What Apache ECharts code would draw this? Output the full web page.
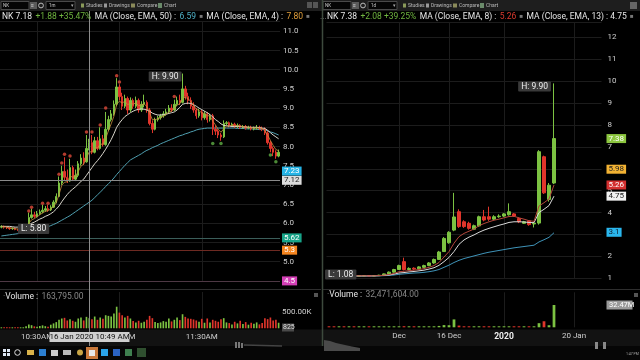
<!DOCTYPE html>
<html><head><meta charset="utf-8">
<script src="https://cdn.jsdelivr.net/npm/echarts@6/dist/echarts.min.js"></script>
<style>html,body{margin:0;padding:0;background:#000;overflow:hidden}#chart{width:640px;height:360px}</style>
</head><body><div id="chart"></div>
<script>
// ================= LEFT PANEL: NK 1-minute bars, 16 Jan 2020 =================
const leftStartHour = 10, leftStartMinute = 17, leftBarCount = 102;
const leftTimeTickLabels = {'10:30':'10:30AM','11:00':'11:00AM','11:30':'11:30AM'};
const leftOpen = [5.90,5.92,5.90,5.88,5.86,5.87,5.84,5.82,5.85,5.88, 5.95,6.15,6.22,6.18,6.25,6.30,6.34,6.38,6.35,6.42, 6.55,6.70,7.05,7.35,7.20,7.10,7.45,7.15,7.25,7.55, 7.70,7.60,7.95,8.10,7.85,8.15,7.95,8.20,8.05,8.45, 8.70,8.85,9.10,9.55,9.30,9.05,9.25,8.95,9.20,9.05, 9.20,8.95,9.10,9.15,8.95,8.60,8.45,8.70,8.75,8.80, 8.85,8.90,9.00,8.95,9.10,9.20,9.15,9.50,9.30,9.20, 9.05,8.95,8.80,8.90,8.75,8.85,8.70,8.80,8.45,8.40, 8.30,8.25,8.60,8.62,8.55,8.58,8.52,8.55,8.50,8.52, 8.48,8.50,8.46,8.48,8.50,8.47,8.45,8.35,8.10,7.95, 7.85,7.75];
const leftClose = [5.92,5.90,5.88,5.86,5.87,5.84,5.82,5.85,5.88,5.95, 6.15,6.22,6.18,6.25,6.30,6.34,6.38,6.35,6.42,6.55, 6.70,7.05,7.35,7.20,7.10,7.45,7.15,7.25,7.55,7.70, 7.60,7.95,8.10,7.85,8.15,7.95,8.20,8.05,8.45,8.70, 8.85,9.10,9.55,9.30,9.05,9.25,8.95,9.20,9.05,9.20, 8.95,9.10,9.15,8.95,8.60,8.45,8.70,8.75,8.80,8.85, 8.90,9.00,8.95,9.10,9.20,9.15,9.50,9.30,9.20,9.05, 8.95,8.80,8.90,8.75,8.85,8.70,8.80,8.45,8.40,8.30, 8.25,8.60,8.62,8.55,8.58,8.52,8.55,8.50,8.52,8.48, 8.50,8.46,8.48,8.50,8.47,8.45,8.35,8.10,7.95,7.85, 7.75,7.85];
const leftLow = [5.87,5.86,5.85,5.83,5.83,5.82,5.80,5.81,5.83,5.86, 5.93,6.12,6.14,6.15,6.22,6.26,6.30,6.30,6.32,6.40, 6.52,6.68,7.00,7.12,7.05,7.08,7.10,7.10,7.20,7.50, 7.52,7.58,7.90,7.80,7.82,7.90,7.92,8.00,8.02,8.40, 8.65,8.80,9.05,9.20,8.95,9.00,8.85,8.90,8.98,9.00, 8.88,8.90,9.02,8.88,8.55,8.35,8.42,8.65,8.70,8.75, 8.80,8.85,8.90,8.92,9.05,9.08,9.12,9.22,9.10,8.98, 8.88,8.72,8.75,8.68,8.70,8.62,8.65,8.30,8.30,8.22, 8.15,8.22,8.55,8.50,8.52,8.48,8.48,8.46,8.46,8.44, 8.45,8.42,8.42,8.44,8.43,8.40,8.30,8.05,7.85,7.75, 7.68,7.72];
const leftHigh = [5.95,5.94,5.92,5.90,5.89,5.89,5.86,5.87,5.90,5.98, 6.28,6.38,6.30,6.32,6.36,6.48,6.45,6.48,6.47,6.60, 6.78,7.22,7.50,7.72,7.40,7.68,7.50,7.40,7.62,7.80, 7.85,8.30,8.20,8.30,8.25,8.25,8.50,8.30,8.90,8.80, 8.95,9.20,9.78,9.62,9.40,9.35,9.30,9.28,9.25,9.30, 9.25,9.18,9.35,9.20,9.00,8.68,8.75,8.80,8.85,8.92, 8.98,9.08,9.10,9.22,9.30,9.35,9.90,9.58,9.40,9.28, 9.15,9.00,8.98,8.95,8.92,8.90,8.85,8.85,8.55,8.45, 8.35,8.68,8.66,8.65,8.62,8.62,8.60,8.58,8.56,8.56, 8.54,8.54,8.52,8.56,8.54,8.52,8.50,8.40,8.15,8.00, 7.90,7.92];
const leftVolumeK = [18,12,15,10,14,12,20,16,22,60, 120,95,60,45,70,90,65,50,110,150, 190,260,300,320,240,280,230,200,300,330, 240,350,310,280,360,260,330,290,400,380, 360,450,660,480,400,330,380,300,220,180, 230,170,200,260,380,310,190,160,180,220, 200,300,210,260,330,250,430,350,300,290, 270,240,200,290,170,300,180,260,230,200, 280,310,180,160,120,200,150,230,130,190, 110,170,140,180,120,160,310,280,330,240, 260,170];
const leftEma4 = [5.92,5.91,5.90,5.88,5.88,5.86,5.85,5.85,5.86,5.90, 6.00,6.09,6.12,6.17,6.22,6.27,6.31,6.33,6.37,6.44, 6.54,6.75,6.99,7.07,7.08,7.23,7.20,7.22,7.35,7.49, 7.54,7.70,7.86,7.86,7.97,7.96,8.06,8.06,8.21,8.41, 8.59,8.79,9.10,9.18,9.13,9.18,9.09,9.13,9.10,9.14, 9.06,9.08,9.11,9.04,8.87,8.70,8.70,8.72,8.75,8.79, 8.84,8.90,8.92,8.99,9.08,9.11,9.26,9.28,9.25,9.17, 9.08,8.97,8.94,8.87,8.86,8.80,8.80,8.66,8.56,8.45, 8.37,8.46,8.53,8.54,8.55,8.54,8.54,8.53,8.52,8.51, 8.50,8.49,8.48,8.49,8.48,8.47,8.42,8.29,8.16,8.03, 7.92,7.89];
const leftEmaMid = [5.92,5.92,5.92,5.92,5.91,5.90,5.90,5.89,5.89,5.90, 5.95,6.00,6.03,6.07,6.11,6.14,6.18,6.21,6.25,6.30, 6.37,6.45,6.56,6.66,6.75,6.83,6.89,6.95,7.02,7.09, 7.15,7.25,7.35,7.45,7.55,7.63,7.72,7.82,7.93,8.05, 8.18,8.33,8.50,8.61,8.70,8.78,8.83,8.88,8.92,8.95, 8.97,8.98,8.97,8.95,8.92,8.87,8.84,8.82,8.82,8.83, 8.84,8.86,8.88,8.90,8.95,9.02,9.10,9.12,9.13,9.12, 9.09,9.05,9.00,8.96,8.92,8.88,8.83,8.77,8.70,8.65, 8.59,8.55,8.54,8.53,8.52,8.52,8.52,8.52,8.51,8.51, 8.50,8.50,8.50,8.50,8.49,8.48,8.47,8.42,8.36,8.30, 8.25,8.20];
const leftEma50 = [5.67,5.68,5.69,5.70,5.71,5.72,5.73,5.74,5.75,5.76, 5.77,5.79,5.81,5.83,5.85,5.86,5.88,5.91,5.94,5.97, 6.00,6.04,6.08,6.12,6.16,6.20,6.25,6.30,6.35,6.40, 6.45,6.50,6.55,6.60,6.67,6.74,6.81,6.88,6.96,7.03, 7.10,7.18,7.27,7.35,7.43,7.51,7.58,7.65,7.69,7.73, 7.77,7.81,7.86,7.90,7.93,7.97,8.00,8.03,8.07,8.10, 8.13,8.16,8.19,8.22,8.25,8.28,8.30,8.33,8.35,8.38, 8.40,8.43,8.45,8.46,8.47,8.48,8.48,8.48,8.48,8.48, 8.48,8.48,8.48,8.48,8.48,8.48,8.47,8.47,8.47,8.46, 8.46,8.46,8.45,8.45,8.44,8.44,8.43,8.41,8.38,8.36, 8.33,8.30];
const leftSignalsAbove = [[10,6.32],[11,6.42],[15,6.52],[17,6.52],[21,7.28],[22,7.57],[23,7.80],[25,7.75],[31,8.38],[33,8.38],[36,8.56],[38,9.0],[42,9.84],[43,9.68],[63,9.30]];
const leftSignalsBelow = [[77,8.08],[80,8.08],[98,7.78],[100,7.60]];
const leftHigh_ = {index:66, value:9.90}, leftLow_ = {index:6, value:5.80};
const leftLevels = [5.62, 5.3, 4.5];
const crosshairTime = '10:49', crosshairPrice = 7.12, crosshairText = '16 Jan 2020 10:49 AM';
const leftCyanTag = 7.23;

// ================= RIGHT PANEL: NK daily bars =================
const rightDates = ['2019-11-11','2019-11-12','2019-11-13','2019-11-14','2019-11-15','2019-11-18','2019-11-19','2019-11-20','2019-11-21','2019-11-22','2019-11-25','2019-11-26','2019-11-27','2019-11-29','2019-12-02','2019-12-03','2019-12-04','2019-12-05','2019-12-06','2019-12-09','2019-12-10','2019-12-11','2019-12-12','2019-12-13','2019-12-16','2019-12-17','2019-12-18','2019-12-19','2019-12-20','2019-12-23','2019-12-24','2019-12-26','2019-12-27','2019-12-30','2019-12-31','2020-01-02','2020-01-03','2020-01-06','2020-01-07','2020-01-08','2020-01-09','2020-01-10','2020-01-13','2020-01-14','2020-01-15','2020-01-16','2020-01-17','2020-01-18','2020-01-19','2020-01-20','2020-01-21','2020-01-22','2020-01-23','2020-01-24','2020-01-25'];
const rightDateTickLabels = {'2019-12-02':'Dec','2019-12-16':'16 Dec','2020-01-02':'{b|2020}','2020-01-20':'20 Jan'};
const rightOpen = [1.12,1.11,1.10,1.11,1.10,1.11,1.10,1.11,1.12,1.11, 1.12,1.14,1.20,1.28,1.40,1.76,1.40,1.46,1.43,1.50, 1.58,1.70,1.86,2.22,2.62,3.20,4.04,3.58,3.51,3.24, 3.39,3.81,3.81,3.70,3.81,3.84,3.90,3.94,3.73,3.51, 3.62,3.48,3.52,6.55,4.60,5.35];
const rightClose = [1.11,1.10,1.11,1.10,1.11,1.10,1.11,1.12,1.11,1.12, 1.14,1.20,1.28,1.40,1.58,1.40,1.45,1.42,1.52,1.58, 1.70,1.86,2.20,2.82,3.10,3.80,3.36,3.36,3.28,3.40, 3.81,3.66,3.70,3.81,3.84,3.94,4.04,3.84,3.58,3.58, 3.45,3.52,6.78,4.90,5.25,7.38];
const rightLow = [1.08,1.08,1.08,1.09,1.09,1.08,1.09,1.10,1.10,1.10, 1.11,1.13,1.18,1.26,1.38,1.36,1.36,1.38,1.40,1.46, 1.55,1.66,1.84,2.20,2.58,3.15,3.30,3.30,3.22,3.20, 3.35,3.60,3.62,3.66,3.76,3.80,3.86,3.80,3.52,3.48, 3.40,3.32,3.45,4.85,4.50,5.30];
const rightHigh = [1.14,1.13,1.13,1.13,1.12,1.12,1.13,1.14,1.14,1.14, 1.16,1.22,1.31,1.43,1.62,1.94,1.50,1.50,1.55,1.62, 1.74,1.90,2.25,2.88,3.15,4.90,4.15,3.65,3.58,3.45, 3.86,4.12,4.27,3.88,3.92,3.98,4.42,3.98,3.78,3.62, 3.66,3.58,6.85,6.60,5.35,9.90];
const rightVolumeM = [0.4,0.3,0.5,0.3,0.4,0.3,0.4,0.5,0.3,0.4, 0.5,0.8,0.9,1.0,1.4,1.6,0.7,0.6,0.8,0.7, 0.9,1.2,2.0,3.2,3.0,11.5,2.5,1.2,1.0,0.9, 1.5,1.1,1.0,0.8,0.7,0.9,1.2,0.9,1.0,0.7, 0.8,1.0,6.0,8.8,3.0,32.47];
const rightEma8 = [1.11,1.11,1.11,1.11,1.11,1.11,1.11,1.11,1.11,1.11, 1.12,1.14,1.17,1.22,1.30,1.32,1.35,1.37,1.40,1.44, 1.50,1.58,1.72,1.97,2.22,2.60,2.90,3.05,3.15,3.25, 3.40,3.50,3.58,3.65,3.70,3.76,3.82,3.83,3.76,3.70, 3.63,3.60,4.30,4.45,4.62,5.26];
const rightEma13 = [1.11,1.11,1.11,1.11,1.11,1.11,1.11,1.11,1.11,1.11, 1.12,1.13,1.15,1.19,1.24,1.26,1.29,1.31,1.34,1.37, 1.42,1.48,1.59,1.76,1.95,2.22,2.55,2.75,2.88,2.98, 3.10,3.20,3.28,3.35,3.42,3.48,3.55,3.58,3.58,3.57, 3.55,3.54,4.00,4.15,4.32,4.75];
const rightEmaSlow = [1.07,1.07,1.08,1.08,1.08,1.09,1.09,1.09,1.10,1.10, 1.11,1.12,1.13,1.15,1.18,1.20,1.22,1.24,1.25,1.27, 1.30,1.34,1.40,1.50,1.60,1.72,1.82,1.90,1.96,2.02, 2.08,2.14,2.19,2.23,2.27,2.31,2.35,2.39,2.42,2.45, 2.48,2.51,2.66,2.76,2.87,3.08];
const rightHigh_ = {index:45, value:9.90}, rightLow_ = {index:0, value:1.08};
const rightTags = [[7.38,'7.38','#8cc63f','#fff'],[5.98,'5.98','#f2b233','#222'],[5.26,'5.26','#d32f2f','#fff'],[4.75,'4.75','#f2f2f2','#222'],[3.1,'3.1','#2ab7ee','#123']];

// ================= build =================
const leftTimes = [];
for (let i = 0; i < leftBarCount; i++) {
  const m = leftStartMinute + i;
  leftTimes.push((leftStartHour + Math.floor(m / 60)) + ':' + String(m % 60).padStart(2, '0'));
}
const UP = '#7cc242', DOWN = '#e0352b';
const FONT = 'Roboto, "Liberation Sans", Arial, sans-serif';
const leftCandles = leftOpen.map((o, i) => [o, leftClose[i], leftLow[i], leftHigh[i]]);
const rightCandles = rightOpen.map((o, i) => [o, rightClose[i], rightLow[i], rightHigh[i]]);
const leftVol = leftVolumeK.map((v, i) => ({value: v * 1000, itemStyle: {color: leftClose[i] >= leftOpen[i] ? UP : DOWN}}));
const rightVol = rightVolumeM.map((v, i) => ({value: v * 1e6, itemStyle: {color: rightClose[i] >= rightOpen[i] ? UP : DOWN}}));

function tag(val, text, bg, fg, lineColor, extra) {
  return Object.assign({yAxis: val,
    lineStyle: {color: lineColor || 'rgba(0,0,0,0)', width: 1, type: 'solid'},
    label: Object.assign({show: true, position: 'end', formatter: text, backgroundColor: bg, color: fg,
      padding: [1, 2, 0, 2], fontSize: 8, fontFamily: FONT, distance: 2}, extra || {})});
}
const hlLabel = {show: true, backgroundColor: '#3a3a3a', color: '#eee', padding: [1, 3, 0, 3], fontSize: 8.5, fontFamily: FONT, borderRadius: 1};

const gridLine = {color: '#1c1c1c', width: 1};
const axisLbl = {color: '#cfcfcf', fontSize: 8, fontFamily: FONT};

const option = {
  animation: false,
  textStyle: {fontFamily: FONT},
  grid: [
    {left: 0, width: 280, top: 21.7, height: 259.2},
    {left: 0, width: 280, top: 292, height: 36.3},
    {left: 326.5, width: 275, top: 22.07, height: 256.2},
    {left: 326.5, width: 275, top: 292.3, height: 35}
  ],
  xAxis: [
    {type: 'category', gridIndex: 0, data: leftTimes, axisLine: {show: false}, axisTick: {show: false}, axisLabel: {show: false},
      splitLine: {show: true, alignWithLabel: true, interval: (i, v) => !!leftTimeTickLabels[v], lineStyle: gridLine}},
    {type: 'category', gridIndex: 1, data: leftTimes, axisLine: {show: false}, axisTick: {show: false},
      axisLabel: Object.assign({interval: (i, v) => !!leftTimeTickLabels[v], formatter: v => leftTimeTickLabels[v] || '', margin: 5}, axisLbl),
      splitLine: {show: true, alignWithLabel: true, interval: (i, v) => !!leftTimeTickLabels[v], lineStyle: gridLine}},
    {type: 'category', gridIndex: 2, data: rightDates, axisLine: {show: false}, axisTick: {show: false}, axisLabel: {show: false},
      splitLine: {show: true, alignWithLabel: true, interval: (i, v) => !!rightDateTickLabels[v], lineStyle: gridLine}},
    {type: 'category', gridIndex: 3, data: rightDates, axisLine: {show: false}, axisTick: {show: false},
      axisLabel: Object.assign({interval: (i, v) => !!rightDateTickLabels[v], formatter: v => rightDateTickLabels[v] || '', margin: 5,
        rich: {b: {fontWeight: 'bold', color: '#f0f0f0', fontSize: 8.5, fontFamily: FONT}}}, axisLbl),
      splitLine: {show: true, alignWithLabel: true, interval: (i, v) => !!rightDateTickLabels[v], lineStyle: gridLine}}
  ],
  yAxis: [
    {type: 'value', gridIndex: 0, position: 'right', min: 4.5, max: 11.25, interval: 0.5,
      axisLine: {show: false}, axisTick: {show: false},
      axisLabel: Object.assign({formatter: v => v.toFixed(1), showMaxLabel: false, margin: 3}, axisLbl),
      splitLine: {show: true, lineStyle: gridLine}},
    {type: 'value', gridIndex: 1, position: 'right', min: 0, max: 1110000, interval: 500000,
      axisLine: {show: false}, axisTick: {show: false},
      axisLabel: Object.assign({formatter: v => v === 500000 ? '500.00K' : '', margin: 2}, axisLbl),
      splitLine: {show: false}},
    {type: 'value', gridIndex: 2, position: 'right', min: 1, max: 12.7, interval: 1,
      axisLine: {show: false}, axisTick: {show: false},
      axisLabel: Object.assign({showMaxLabel: false, margin: 6}, axisLbl),
      splitLine: {show: true, lineStyle: gridLine}},
    {type: 'value', gridIndex: 3, position: 'right', min: 0, max: 51e6,
      axisLine: {show: false}, axisTick: {show: false}, axisLabel: {show: false}, splitLine: {show: false}}
  ],
  series: [
    {type: 'candlestick', name: 'NK 1m', xAxisIndex: 0, yAxisIndex: 0, data: leftCandles, barWidth: '70%',
      itemStyle: {color: UP, color0: DOWN, borderColor: UP, borderColor0: DOWN, borderWidth: 1},
      markLine: {silent: true, symbol: ['none', 'none'], animation: false, data: [
        tag(leftLevels[0], String(leftLevels[0]), '#18a489', '#fff', '#3b5e5a'),
        tag(leftLevels[1], String(leftLevels[1]), '#f5851f', '#fff', '#6e2a22'),
        tag(leftLevels[2], String(leftLevels[2]), '#d43fb6', '#fff', '#4e3844'),
        tag(crosshairPrice, crosshairPrice.toFixed(2), '#dcdcdc', '#222', '#8a8a8a'),
        tag(leftCyanTag, leftCyanTag.toFixed(2), '#26b4e6', '#fff', null, {offset: [0, -5]})
      ]},
      markPoint: {silent: true, symbol: 'circle', symbolSize: 0.1, animation: false, data: [
        {coord: [leftTimes[leftHigh_.index], leftHigh_.value], label: Object.assign({position: 'left', distance: 1, offset: [0, 3], formatter: 'H: ' + leftHigh_.value.toFixed(2)}, hlLabel)},
        {coord: [leftTimes[leftLow_.index], leftLow_.value], label: Object.assign({position: 'right', distance: 0, offset: [0, -2], formatter: 'L: ' + leftLow_.value.toFixed(2)}, hlLabel)}
      ]}},
    {type: 'line', xAxisIndex: 0, yAxisIndex: 0, data: leftEma50, symbol: 'none', lineStyle: {color: '#4f9fb0', width: 1}, z: 1},
    {type: 'line', xAxisIndex: 0, yAxisIndex: 0, data: leftEmaMid, symbol: 'none', lineStyle: {color: '#d9d6cc', width: 1}, z: 3},
    {type: 'line', xAxisIndex: 0, yAxisIndex: 0, data: leftEma4, symbol: 'none', lineStyle: {color: '#c98f3e', width: 0.8}, z: 3},
    {type: 'scatter', xAxisIndex: 0, yAxisIndex: 0, data: leftSignalsAbove, symbolSize: 3.5, itemStyle: {color: '#e04a3a'}, z: 4},
    {type: 'scatter', xAxisIndex: 0, yAxisIndex: 0, data: leftSignalsBelow, symbolSize: 3.5, itemStyle: {color: '#5fae45'}, z: 4},
    {type: 'bar', xAxisIndex: 1, yAxisIndex: 1, data: leftVol, barWidth: '60%', barMinHeight: 1},

    {type: 'candlestick', name: 'NK 1d', xAxisIndex: 2, yAxisIndex: 2, data: rightCandles, barWidth: '60%',
      itemStyle: {color: UP, color0: DOWN, borderColor: UP, borderColor0: DOWN, borderWidth: 1},
      markLine: {silent: true, symbol: ['none', 'none'], animation: false,
        data: rightTags.map(t => tag(t[0], t[1], t[2], t[3], null, {distance: 5}))},
      markPoint: {silent: true, symbol: 'circle', symbolSize: 0.1, animation: false, data: [
        {coord: [rightDates[rightHigh_.index], rightHigh_.value], label: Object.assign({position: 'left', distance: 3, offset: [0, 3], formatter: 'H: ' + rightHigh_.value.toFixed(2)}, hlLabel)},
        {coord: [rightDates[rightLow_.index], rightLow_.value], label: Object.assign({position: 'right', distance: 0, offset: [-4, -2], formatter: 'L: ' + rightLow_.value.toFixed(2)}, hlLabel)}
      ]}},
    {type: 'line', xAxisIndex: 2, yAxisIndex: 2, data: rightEmaSlow, symbol: 'none', lineStyle: {color: '#3f93b8', width: 1}, z: 1},
    {type: 'line', xAxisIndex: 2, yAxisIndex: 2, data: rightEma13, symbol: 'none', lineStyle: {color: '#d9d9d9', width: 1}, z: 3},
    {type: 'line', xAxisIndex: 2, yAxisIndex: 2, data: rightEma8, symbol: 'none', lineStyle: {color: '#b5473c', width: 1}, z: 3},
    {type: 'bar', xAxisIndex: 3, yAxisIndex: 3, data: rightVol, barWidth: '55%', barMinHeight: 1}
  ]
};

const chart = echarts.init(document.getElementById('chart'), null, {renderer: 'canvas', width: 640, height: 360});
chart.setOption(option);

const crossX = Math.round(chart.convertToPixel({xAxisIndex: 0}, crosshairTime)) + 0.5;
const volTagY = chart.convertToPixel({yAxisIndex: 3}, rightVolumeM[rightVolumeM.length - 1] * 1e6);

function t(x, y, text, size, color, extra) {
  return Object.assign({type: 'text', z: 60, style: Object.assign({x, y, text, fill: color, font: size + 'px ' + FONT, verticalAlign: 'middle'}, extra && extra.style || {})}, extra && extra.el || {});
}
function r(x, y, w, h, fill, stroke, z) {
  return {type: 'rect', z: z == null ? 60 : z, shape: {x, y, width: w, height: h}, style: {fill, stroke: stroke || null, lineWidth: stroke ? 1 : 0}};
}
function l(x1, y1, x2, y2, color, w, z) {
  return {type: 'line', z: z == null ? 55 : z, shape: {x1, y1, x2, y2}, style: {stroke: color, lineWidth: w || 1}};
}
const rs = (c, s) => ({fill: c, fontSize: s || 8.5, fontFamily: FONT});
const richHdr = {w: rs('#e6e6e6'), g: rs('#6fb43f'), t: rs('#4fb0c6'), o: rs('#e3a03c'), rd: rs('#d83a2e'), s: rs('#777', 6), d: rs('#888')};

function toolbar(x0, tf) {
  return [
    r(x0 + 1, 1.5, 28, 8, '#050505', '#4a4a4a'), t(x0 + 3, 5.6, 'NK', 4.5, '#ccc'),
    r(x0 + 30, 2, 7, 7, '#5a5a5a'), t(x0 + 31, 5.6, '\u2261', 5, '#ddd'),
    {type: 'circle', z: 60, shape: {cx: x0 + 41, cy: 5.5, r: 2.4}, style: {fill: 'none', stroke: '#bbb', lineWidth: 1}},
    r(x0 + 46, 1.5, 29, 8, '#050505', '#4a4a4a'), t(x0 + 49, 5.6, tf, 4.5, '#ccc'), t(x0 + 71, 5.6, '\u25be', 5, '#aaa'),
    r(x0 + 81, 3.5, 3, 4, '#8a9a5a'), t(x0 + 86, 5.6, 'Studies', 5, '#bbb'),
    r(x0 + 104, 3.5, 3, 4, '#999'), t(x0 + 109, 5.6, 'Drawings', 5, '#bbb'),
    r(x0 + 131, 3.5, 4, 4, '#8a8a5a'), t(x0 + 137, 5.6, 'Compare', 5, '#bbb'),
    r(x0 + 158, 3, 4, 5, '#6a8a6a'), t(x0 + 164, 5.6, 'Chart', 5, '#bbb')
  ];
}

const graphics = [
  // backgrounds (under everything)
  r(0, 0, 640, 11, '#1e1e1e', null, -100),
  r(0, 329.5, 640, 17, '#121212', null, -100),
  r(0, 346, 640, 14, '#060606', null, -100),
  // panel separators
  l(0, 289.5, 321, 289.5, '#2e2e2e', 1, 5), l(323, 289.5, 640, 289.5, '#2e2e2e', 1, 5),
  l(322.5, 0, 322.5, 346, '#3d4a3d', 1.5, 70),
  // crosshair vertical line
  l(crossX, 11, crossX, 346, '#8c8c8c', 1, 55),
  // crosshair time label
  {type: 'group', z: 80, children: [
    r(crossX - 40, 332, 80, 10, '#cfcfcf', null, 80),
    t(crossX, 337.3, crosshairText, 8, '#111', {style: {align: 'center'}, el: {z: 81}})
  ]},
  // headers
  {type: 'text', z: 60, style: {x: 2, y: 16.5, verticalAlign: 'middle',
    text: '{w|NK 7.18} {g|+1.88 +35.47%} {w|MA (Close, EMA, 50) :} {t|6.59} {s|\u25a0} {w|MA (Close, EMA, 4) :} {o|7.80} {s|\u25a0}   {d|...}', rich: richHdr}},
  {type: 'text', z: 60, style: {x: 327, y: 16.5, verticalAlign: 'middle',
    text: '{w|NK 7.38} {g|+2.08 +39.25%} {w|MA (Close, EMA, 8) :} {rd|5.26} {s|\u25a0} {w|MA (Close, EMA, 13) : 4.75} {s|\u25a0}   {d|...}', rich: richHdr}},
  // volume headers
  {type: 'text', z: 60, style: {x: 3, y: 296.5, verticalAlign: 'middle', text: '{d|\u00b7}{w|Volume :} {d|163,795.00}', rich: richHdr}},
  {type: 'text', z: 60, style: {x: 327, y: 294.5, verticalAlign: 'middle', text: '{d|\u00b7}{w|Volume :} {d|32,471,604.00}', rich: richHdr}},
  r(314, 293, 4, 4, '#555'), r(634, 293, 4, 4, '#555'),
  // volume tags
  r(606.5, volTagY - 4.5, 26, 9, '#9a9a9a'), t(609, volTagY + 0.3, '32.47M', 7.5, '#fff'),
  r(282, 323.5, 12, 8, '#4a4a4a'), t(283, 327.7, '825', 7, '#ddd'),
  // top-right icons
  r(307, 2, 5, 6, '#555'), r(313, 2, 5, 6, '#555'), r(630, 2, 7, 7, '#666'),
  // navigator hints
  {type: 'polygon', z: 5, shape: {points: [[324, 351], [324, 340], [330, 341], [336, 343], [345, 345], [352, 346.5], [360, 348], [360, 351]]}, style: {fill: '#4a4a4a'}},
  r(595, 342, 3, 7, '#888'), r(603, 342, 3, 7, '#888'),
  r(235, 342, 2, 6, '#777'), r(238, 342, 2, 6, '#777'), r(241, 343, 2, 5, '#777'),
  l(244, 345, 282, 346, '#444', 1.5, 5),
  // taskbar icons
  r(3, 349, 3, 3, '#dfe8f5'), r(7, 349, 3, 3, '#dfe8f5'), r(3, 353, 3, 3, '#dfe8f5'), r(7, 353, 3, 3, '#dfe8f5'),
  {type: 'circle', z: 60, shape: {cx: 17.5, cy: 352.5, r: 2.8}, style: {fill: 'none', stroke: '#ddd', lineWidth: 1}},
  r(27, 350, 7, 5, '#d9b24a'), r(39, 349, 7, 7, '#2c7fd0'), r(51, 350, 7, 6, '#ccc'),
  r(63, 350, 8, 5, '#bbb'), {type: 'circle', z: 60, shape: {cx: 80, cy: 352.5, r: 3}, style: {fill: '#c9a545'}},
  r(86, 347, 12, 12, '#c8783a'), r(89, 350, 6, 6, '#e8e8e8'),
  r(101, 349, 7, 7, '#2aa3e8'), r(113, 349, 7, 7, '#2b63c2'), r(125, 349, 7, 7, '#3f7f4f'), r(137, 348, 9, 9, '#2f4f2f'),
  t(626, 354, '1:47 PM', 3.5, '#aaa')
].concat(toolbar(0, '1m'), toolbar(322, '1d'));

chart.setOption({graphic: graphics});
</script></body></html>
